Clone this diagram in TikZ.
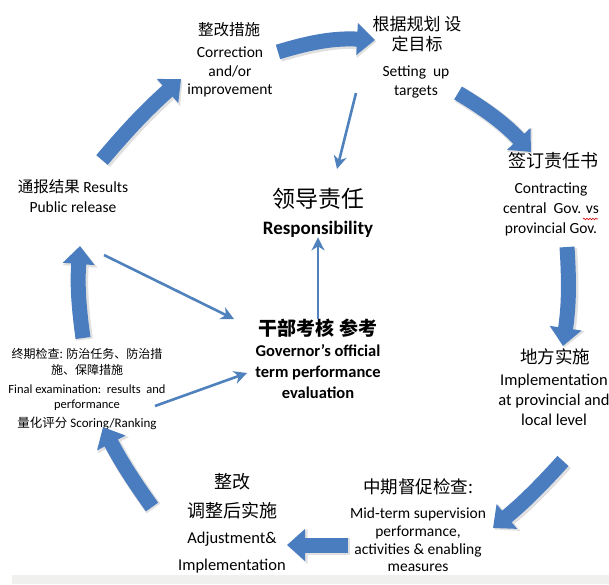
\documentclass[tikz,border=0pt]{standalone}
\usepackage{fontspec}
\setmainfont{Carlito}
\newfontfamily\cjk{Noto Sans CJK SC}
\usetikzlibrary{arrows.meta,decorations.pathmorphing}
\definecolor{ablue}{HTML}{4A7DC0}
\definecolor{tblue}{HTML}{4F81BD}
\definecolor{stripc}{HTML}{F0F1EE}
\begin{document}
\begin{tikzpicture}[x=1pt,y=-1pt,
  blk/.style={line width=15pt, draw=ablue, -{Triangle[length=18pt,width=31pt]},
    preaction={draw=black!12, line width=17pt, -{Triangle[length=19pt,width=34pt]},
      transform canvas={shift={(1.5pt,-1.5pt)}}}},
  thin/.style={line width=2.6pt, draw=tblue, -{Stealth[length=13pt,width=13pt,inset=4pt]}},
  zh/.style={font=\cjk\fontsize{15.5}{18}\selectfont, inner sep=0pt, align=center},
  en/.style={font=\fontsize{15.5}{18.5}\selectfont, inner sep=0pt, align=center},
]
\useasboundingbox (0,0) rectangle (609,584);
\fill[stripc] (12,575) rectangle (609,584);

% ---- texts ----
\node[zh] (corrzh) at (229,30) {整改措施};
\node[en] (corren) at (230,72) {Correction\\and/or\\improvement};
\node[zh, font=\cjk\fontsize{17}{19.5}\selectfont] (setzh) at (417,34) {根据规划 设\\定目标};
\node[en, font=\fontsize{15.5}{19.5}\selectfont] (seten) at (416,82) {Setting\ \ up\\targets};
\node[zh, font=\cjk\fontsize{18}{20}\selectfont] (contzh) at (553,161) {签订责任书};
\node[en, font=\fontsize{15.5}{20}\selectfont] (conten) at (551,209) {Contracting\\central\ \ Gov. vs\\provincial Gov.};
\node[en, font=\fontsize{15.5}{19.5}\selectfont] (resen) at (73,196) {{\cjk 通报结果} Results\\Public release};
\node[zh, font=\cjk\fontsize{23}{26}\selectfont] (respzh) at (318,199) {领导责任};
\node[en, font=\bfseries\fontsize{19}{21}\selectfont] (respen) at (318,229) {Responsibility};
\node[zh, font=\cjk\bfseries\fontsize{19}{21}\selectfont] (evalzh) at (318,328) {干部考核 参考};
\node[en, font=\bfseries\fontsize{16.5}{21}\selectfont] (evalen) at (318,372) {Governor’s official\\term performance\\evaluation};
\node[zh, font=\cjk\fontsize{12}{16}\selectfont] (finzh) at (87,362) {终期检查: 防治任务、防治措\\施、保障措施};
\node[en, font=\fontsize{12.5}{14.5}\selectfont] (finen) at (87,397.5) {Final examination:\ \ results\ \ and\\performance};
\node[en, font=\fontsize{13}{15}\selectfont] (score) at (87,423) {{\cjk\fontsize{12.5}{15}\selectfont 量化评分} Scoring/Ranking};
\node[zh, font=\cjk\fontsize{17.5}{20}\selectfont] (implzh) at (555,357) {地方实施};
\node[en, font=\fontsize{16.5}{20}\selectfont] (implen) at (554,400) {Implementation\\at provincial and\\local level};
\node[zh, font=\cjk\fontsize{17.5}{20}\selectfont] (midzh) at (418,487) {中期督促检查:};
\node[en, font=\fontsize{15.5}{17.7}\selectfont] (miden) at (418,540) {Mid-term supervision\\performance,\\activities \& enabling\\measures};
\node[zh, font=\cjk\fontsize{18}{29}\selectfont] (adjzh) at (232,496) {整改\\调整后实施};
\node[en, font=\fontsize{16.5}{27}\selectfont] (adjen) at (232,553) {Adjustment\&\\Implementation};

% red wavy underline under "vs"
\coordinate (vsA) at (583,219);
\coordinate (vsB) at (598,219);
\draw[red!80!black, line width=0.6pt, decorate, decoration={snake, amplitude=0.8pt, segment length=3pt}] (vsA) -- (vsB);

% ---- block arrows ----
\coordinate (b1s) at (278,52);  \coordinate (b1e) at (375,40);
\coordinate (b2s) at (458,93);  \coordinate (b2e) at (531,152);
\coordinate (b3s) at (567,247); \coordinate (b3e) at (563,346);
\coordinate (b4s) at (563,461); \coordinate (b4e) at (493,528);
\coordinate (b5s) at (348,545); \coordinate (b5e) at (287,545);
\coordinate (b6s) at (152,507); \coordinate (b6e) at (103,427);
\coordinate (b7s) at (83,338);  \coordinate (b7e) at (80,246);
\coordinate (b8s) at (102,160); \coordinate (b8e) at (181,79);

\draw[blk] (b1s) to[bend left=10] (b1e);
\draw[blk] (b2s) to[bend left=8] (b2e);
\draw[blk] (b3s) to[bend left=6] (b3e);
\draw[blk] (b4s) to[bend left=4] (b4e);
\draw[blk] (b5s) -- (b5e);
\draw[blk] (b6s) to[bend left=4] (b6e);
\draw[blk] (b7s) to[bend left=6] (b7e);
\draw[blk] (b8s) to[bend left=4] (b8e);

% ---- thin arrows ----
\coordinate (t1s) at (356,93);
\coordinate (t1e) at (337,169);
\draw[thin] (t1s) -- (t1e);
\draw[thin] (evalzh.north) -- (respen.south);
\coordinate (t3s) at (104,255);
\coordinate (t3e) at (234,319);
\draw[thin] (t3s) -- (t3e);
\coordinate (t4s) at (155,406);
\coordinate (t4e) at (247,373);
\draw[thin] (t4s) -- (t4e);
\end{tikzpicture}
\end{document}
